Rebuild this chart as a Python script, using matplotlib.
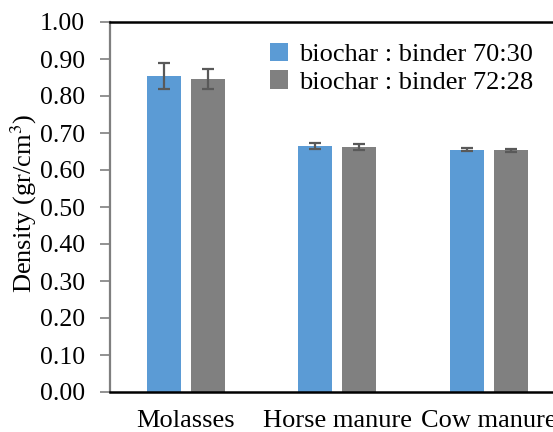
import matplotlib
matplotlib.use("Agg")
import matplotlib.pyplot as plt
import numpy as np

categories = ["Molasses", "Horse manure", "Cow manure"]
series_names = ["biochar : binder 70:30", "biochar : binder 72:28"]
vals_7030 = [0.854, 0.665, 0.655]
err_7030 = [0.035, 0.008, 0.004]
vals_7228 = [0.846, 0.662, 0.653]
err_7228 = [0.026, 0.009, 0.003]
yticks = [0.0, 0.1, 0.2, 0.3, 0.4, 0.5, 0.6, 0.7, 0.8, 0.9, 1.0]

plt.rcParams['font.family'] = 'serif'
plt.rcParams['font.serif'] = ['Liberation Serif', 'DejaVu Serif']
plt.rcParams['mathtext.fontset'] = 'stix'
FAM = ['Liberation Serif', 'DejaVu Serif']

fig = plt.figure(figsize=(5.53, 4.32), dpi=100)
ax = fig.add_axes([110/553, 40/432, 454.5/553, 370/432])

x = np.arange(len(categories))
w = 0.224
off = 0.145
ekw = dict(ecolor="#595959", elinewidth=1.6, capsize=4.5, capthick=1.6)
ax.bar(x - off, vals_7030, w, yerr=err_7030, color="#5B9BD5", label=series_names[0], error_kw=ekw, zorder=2)
ax.bar(x + off, vals_7228, w, yerr=err_7228, color="#808080", label=series_names[1], error_kw=ekw, zorder=2)

ax.set_xlim(-0.5, 2.5)
ax.set_ylim(0, 1.0)
ax.set_yticks(yticks)
ax.set_yticklabels([f"{v:.2f}" for v in yticks], fontsize=18.5, family=FAM)
ax.set_xticks(x)
ax.set_xticklabels(categories, fontsize=19, family=FAM)
ax.tick_params(axis='x', length=0, pad=13)
ax.tick_params(axis='y', direction='out', length=7, width=1.2, color="#7f7f7f", pad=11)

for s in ['top', 'bottom']:
    ax.spines[s].set_color('black')
    ax.spines[s].set_linewidth(1.8)
ax.spines['left'].set_color('#7f7f7f')
ax.spines['left'].set_linewidth(1.6)
ax.spines['right'].set_visible(False)

fig.text(24/553, 1 - 203/432, "Density (gr/cm$^{3}$)", rotation=90, ha='center', va='center',
         fontsize=19, family=FAM)

leg = ax.legend(loc='upper left', bbox_to_anchor=(270/553, 1 - 43/432), bbox_transform=fig.transFigure,
                frameon=False, prop={'family': FAM, 'size': 19}, handlelength=0.7, handleheight=0.7,
                handletextpad=0.4, labelspacing=0.15, borderaxespad=0, borderpad=0)

fig.savefig("out.png", dpi=100)
